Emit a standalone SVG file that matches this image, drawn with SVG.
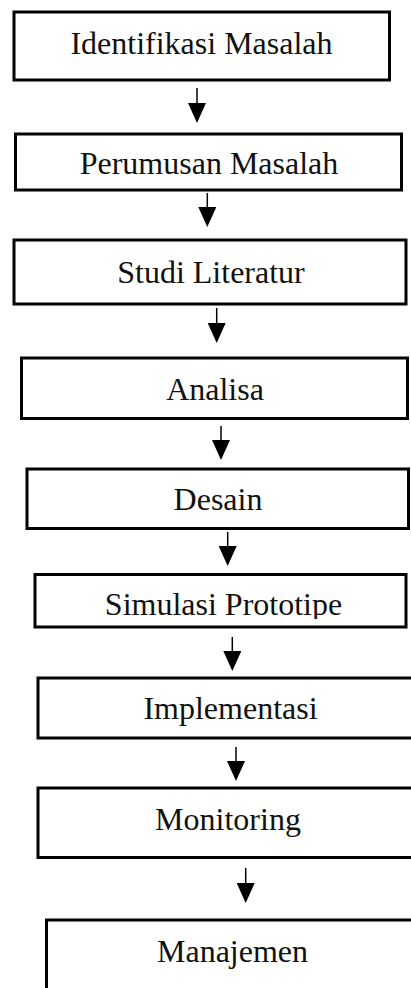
<svg xmlns="http://www.w3.org/2000/svg" width="411" height="988" viewBox="0 0 411 988">
<style>
.box{fill:#fff;stroke:#000;stroke-width:3}
.lbl{font-family:"Liberation Serif","Times New Roman",serif;font-size:32px;fill:#111;text-anchor:middle}
.conn{stroke:#000;stroke-width:1.5;fill:none;marker-end:url(#ah)}
</style>
<defs>
<marker id="ah" markerUnits="userSpaceOnUse" viewBox="0 0 20 18" markerWidth="20" markerHeight="18" refX="5" refY="9" orient="auto">
<path d="M0,0 L20,9 L0,18 z" fill="#000"/>
</marker>
<clipPath id="clip6"><rect x="36" y="575" width="370" height="44"/></clipPath>
</defs>
<rect width="411" height="988" fill="#fff"/>
<g id="connectors">
<path class="conn" d="M197,88 V108"/>
<path class="conn" d="M207.3,193 V212"/>
<path class="conn" d="M216.7,308 V328"/>
<path class="conn" d="M221,426 V445"/>
<path class="conn" d="M227.7,532 V551"/>
<path class="conn" d="M232.3,637 V656"/>
<path class="conn" d="M236,747 V766"/>
<path class="conn" d="M245.7,868 V888"/>
</g>
<g id="n1"><rect class="box" x="14" y="12" width="375.5" height="68"/><text class="lbl" x="201.5" y="54">Identifikasi Masalah</text></g>
<g id="n2"><rect class="box" x="15.5" y="134" width="386" height="56"/><text class="lbl" x="209" y="174">Perumusan Masalah</text></g>
<g id="n3"><rect class="box" x="14" y="240" width="392" height="64"/><text class="lbl" x="211" y="283">Studi Literatur</text></g>
<g id="n4"><rect class="box" x="21.5" y="358" width="386" height="60.5"/><text class="lbl" x="215" y="400">Analisa</text></g>
<g id="n5"><rect class="box" x="27" y="469" width="381.5" height="59.5"/><text class="lbl" x="218" y="510">Desain</text></g>
<g id="n6"><rect class="box" x="35" y="574.5" width="371" height="52.5"/><text class="lbl" x="223.5" y="615" clip-path="url(#clip6)">Simulasi Prototipe</text></g>
<g id="n7"><rect class="box" x="38" y="678" width="400" height="60"/><text class="lbl" x="230.5" y="719">Implementasi</text></g>
<g id="n8"><rect class="box" x="38" y="788" width="400" height="69.5"/><text class="lbl" x="228" y="830">Monitoring</text></g>
<g id="n9"><rect class="box" x="46.5" y="920" width="400" height="100"/><text class="lbl" x="232.5" y="962">Manajemen</text></g>
</svg>
